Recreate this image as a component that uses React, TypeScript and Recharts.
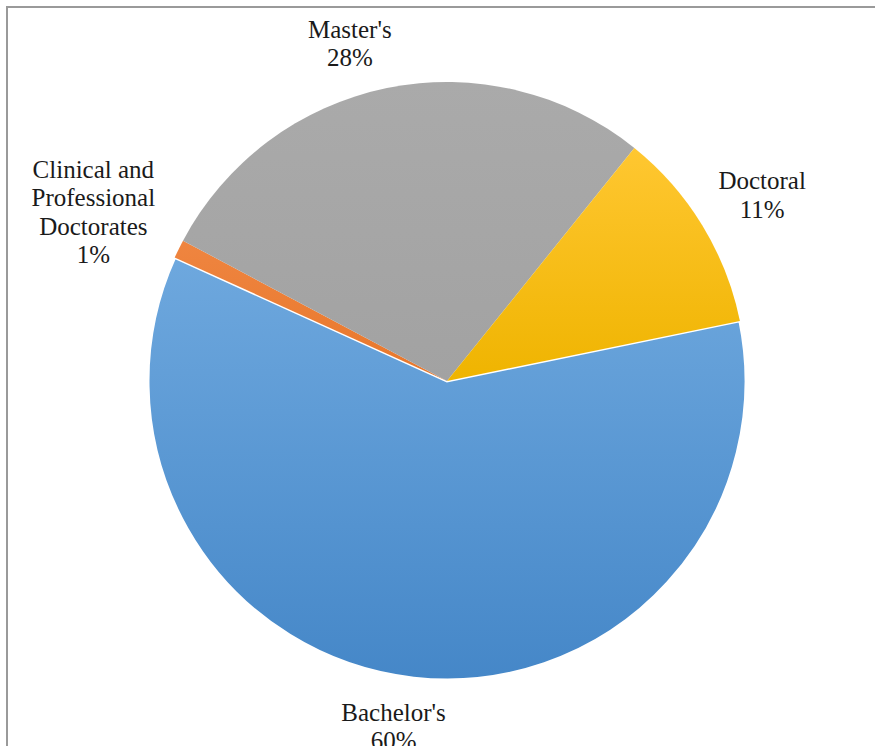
import React from 'react';
import { PieChart, Pie, Cell } from 'recharts';

// degree categories, clockwise from the Doctoral/Bachelor's boundary
const categories = ["Bachelor's", 'Clinical and Professional Doctorates', "Master's", 'Doctoral'];
const shares = [60, 1, 28, 11];
// label text lines (Excel wraps the long one)
const labelLines = [["Bachelor's"], ['Clinical and', 'Professional', 'Doctorates'], ["Master's"], ['Doctoral']];

const data = categories.map((name, i) => ({ name, value: shares[i], lines: labelLines[i] }));

const GRADS = [
  { id: 'gBach', top: '#6EA8DE', bottom: '#4587C8' },
  { id: 'gClin', top: '#EF8540', bottom: '#E8772B' },
  { id: 'gMast', top: '#AAAAAA', bottom: '#A2A2A2' },
  { id: 'gDoct', top: '#FFC731', bottom: '#EFB400' },
];

// small nudges so labels sit where Excel put them
const NUDGE: Record<string, [number, number]> = {
  "Bachelor's": [-14, -7],
  'Clinical and Professional Doctorates': [-36, -13],
  "Master's": [-26, 9],
  Doctoral: [13, -2],
};

const RADIAN = Math.PI / 180;
const LINE_H = 28.5;
const SERIF = '"Liberation Serif", "Times New Roman", Times, serif';

const renderLabel = (props: any) => {
  const { cx, cy, midAngle, outerRadius, percent, payload, name } = props;
  const r = outerRadius + 55;
  const key = payload?.name ?? name;
  const [dx, dy] = NUDGE[key] || [0, 0];
  const x = cx + r * Math.cos(-midAngle * RADIAN) + dx;
  const y = cy + r * Math.sin(-midAngle * RADIAN) + dy;
  const lines: string[] = [...(payload?.lines || [key]), `${Math.round(percent * 100)}%`];
  const top = y - ((lines.length - 1) * LINE_H) / 2;
  return (
    <text
      key={key}
      x={x}
      y={top}
      textAnchor="middle"
      dominantBaseline="central"
      fill="#1a1a1a"
      fontFamily={SERIF}
      fontSize={25}
      style={{ fontFamily: SERIF, fontSize: 25 }}
    >
      {lines.map((l, i) => (
        <tspan key={i} x={x} dy={i === 0 ? 0 : LINE_H} fontFamily={SERIF}>
          {l}
        </tspan>
      ))}
    </text>
  );
};

export default function App() {
  return (
    <div
      style={{
        position: 'fixed',
        left: 0,
        top: 0,
        width: 875,
        height: 746,
        background: '#fff',
        overflow: 'hidden',
        fontFamily: SERIF,
      }}
    >
      <div
        style={{
          position: 'absolute',
          left: 6,
          top: 6,
          width: 920,
          height: 800,
          borderLeft: '2px solid #9a9a9a',
          borderTop: '2px solid #9a9a9a',
        }}
      />
      <div style={{ position: 'absolute', left: 0, top: 0 }}>
        <PieChart width={875} height={746} margin={{ top: 0, right: 0, bottom: 0, left: 0 }}>
          <defs>
            {GRADS.map((g) => (
              <linearGradient key={g.id} id={g.id} x1="0" y1="0" x2="0" y2="1">
                <stop offset="0%" stopColor={g.top} />
                <stop offset="100%" stopColor={g.bottom} />
              </linearGradient>
            ))}
          </defs>
          <Pie
            data={data}
            dataKey="value"
            nameKey="name"
            cx={447}
            cy={381}
            outerRadius={299}
            startAngle={11.6}
            endAngle={-348.4}
            label={renderLabel}
            labelLine={false}
            isAnimationActive={false}
          >
            {data.map((d, i) => (
              <Cell
                key={d.name}
                fill={`url(#${GRADS[i].id})`}
                stroke={i === 0 ? '#ffffff' : 'none'}
                strokeWidth={i === 0 ? 3 : 0}
              />
            ))}
          </Pie>
        </PieChart>
      </div>
    </div>
  );
}
